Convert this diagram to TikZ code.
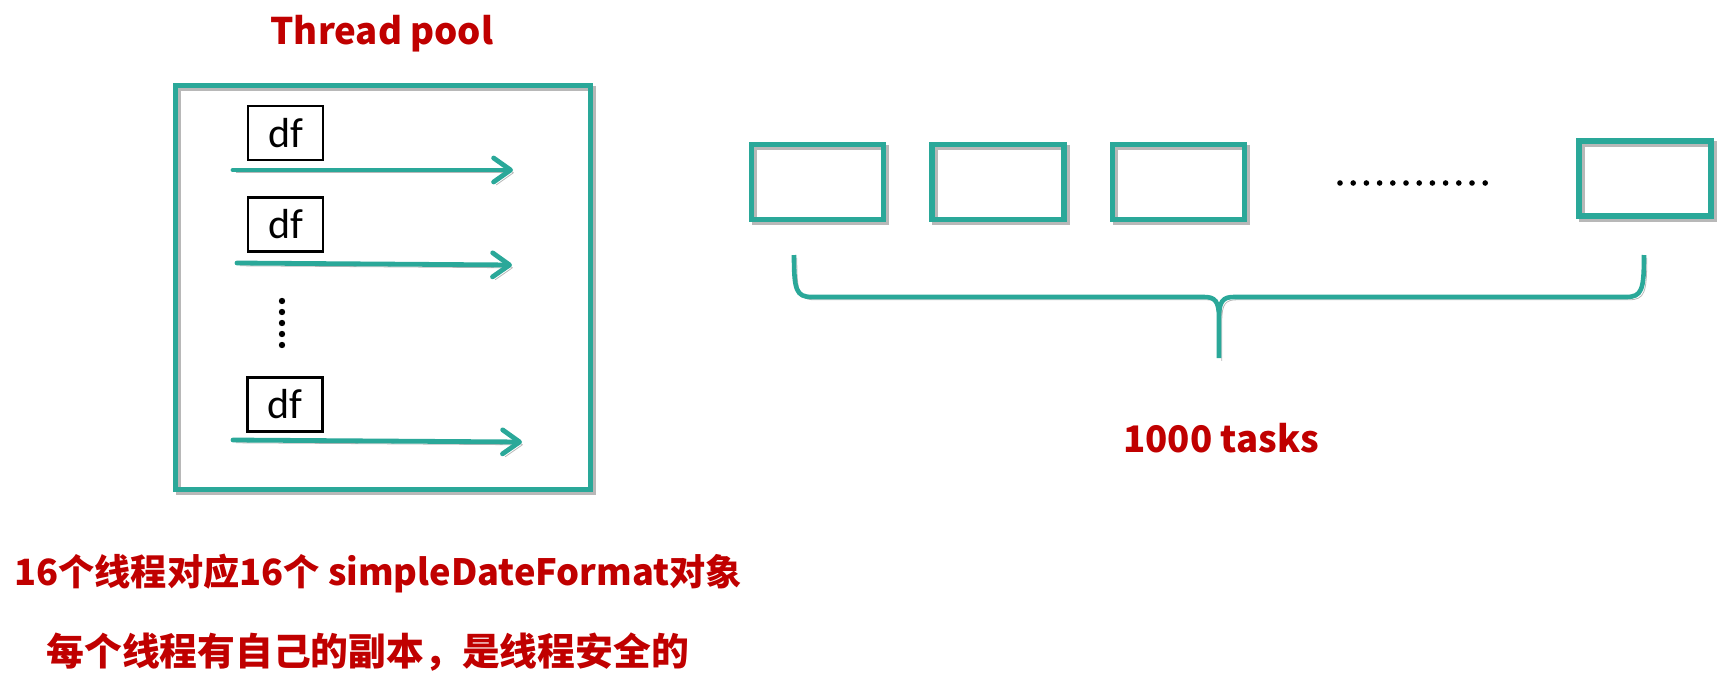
\documentclass[tikz,border=0pt]{standalone}
\usepackage{fontspec}
\setmainfont{Noto Sans CJK SC}
\newfontfamily\dffont{Carlito}
\usetikzlibrary{arrows.meta}
\definecolor{poolteal}{RGB}{42,168,153}
\definecolor{notered}{RGB}{192,0,0}

\begin{document}
\begin{tikzpicture}[x=0.5pt, y=-0.5pt,
  softshadow/.style = {preaction={draw=black!28, transform canvas={shift={(1.4pt,-1.4pt)}}}},
  pool/.style = {draw=poolteal, line width=2.8pt, inner sep=0pt, softshadow},
  task/.style = {draw=poolteal, line width=2.8pt, inner sep=0pt,
    minimum width=66pt, minimum height=37.5pt, softshadow},
  dfbox/.style = {draw, line width=1.4pt, inner sep=0pt,
    minimum width=37.5pt, minimum height=27pt,
    font=\dffont\fontsize{21pt}{21pt}\selectfont},
  thread/.style = {draw=poolteal, line width=2.4pt, line cap=round,
    -{Straight Barb[length=8.5pt,width=12pt,round]}, softshadow},
  note/.style = {text=notered, inner sep=0pt,
    font=\bfseries\fontsize{18.3pt}{22pt}\selectfont}]

  \useasboundingbox (0,0) rectangle (1726,685);

  % thread pool
  \node[note, anchor=base] (title) at (382,45) {Thread pool};
  \node[pool, minimum width=207.5pt, minimum height=202pt] (pool) at (383,287.5) {};

  \node[dfbox] (df1) at (285.5,133) {df};
  \node[dfbox] (df2) at (285.5,224.5) {df};
  \node[dfbox] (df3) at (285,404.5) {df};

  \coordinate (s1) at (233,170);  \coordinate (e1) at (513,170);
  \coordinate (s2) at (237,263);  \coordinate (e2) at (512,265);
  \coordinate (s3) at (233,440);  \coordinate (e3) at (522,442);
  \foreach \i in {1,2,3}
    \draw[thread] (s\i) -- (e\i);

  \foreach \y in {301,312,...,345}
    \fill (282,\y) circle (1.6pt);

  % tasks
  \foreach \i/\x in {1/817.5, 2/998, 3/1178.5}
    \node[task] (task\i) at (\x,182) {};
  \node[task] (task4) at (1645,178.5) {};

  \foreach \x in {0,...,11}
    \fill (1340+13.2*\x,183) circle (1.4pt);

  % brace
  \coordinate (bl) at (794,255);
  \coordinate (br) at (1644,255);
  \coordinate (tip) at (1219,358);
  \draw[draw=poolteal, line width=2.3pt, softshadow]
    (bl) .. controls (794,290) and (796,297) .. (812,297) -- (1204,297)
    .. controls (1215,297) and (1219,301) .. (1219,318) -- (tip)
    (1219,318) .. controls (1219,301) and (1223,297) .. (1234,297) -- (1626,297)
    .. controls (1642,297) and (1644,290) .. (br);
  \node[note, anchor=base] (count) at (1221,452) {1000 tasks};

  % notes
  \node[note, anchor=base west, font=\bfseries\fontsize{18.1pt}{22pt}\selectfont]
    (line1) at (14,585) {16个线程对应16个 simpleDateFormat对象};
  \node[note, anchor=base west, font=\bfseries\fontsize{18.9pt}{22pt}\selectfont]
    (line2) at (46,665) {每个线程有自己的副本，是线程安全的};
\end{tikzpicture}
\end{document}
